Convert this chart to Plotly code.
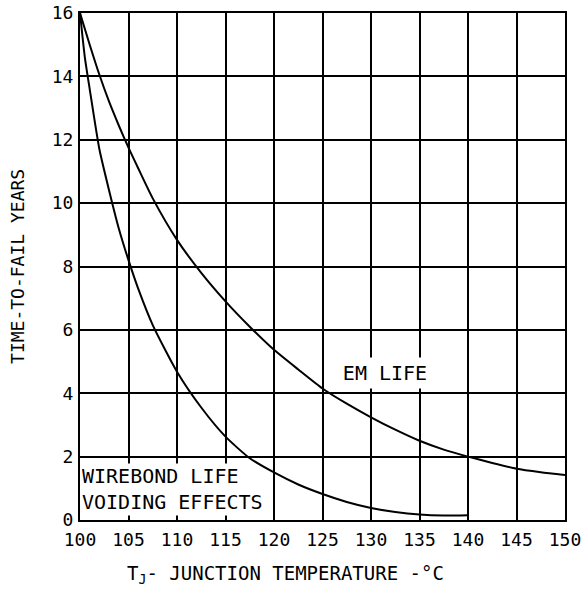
import plotly.graph_objects as go

# Data
em_temp = [100, 101, 102, 103, 104, 105, 106, 107.5, 110, 112.5, 115, 117.5, 120, 122.5, 125,
           127.5, 130, 132.5, 135, 137.5, 140, 142.5, 145, 147.5, 150]
em_life = [16, 15.0, 14.05, 13.2, 12.45, 11.75, 11.1, 10.15, 8.84, 7.8, 6.9, 6.1, 5.37, 4.75, 4.15,
           3.67, 3.24, 2.85, 2.5, 2.22, 2.0, 1.8, 1.62, 1.51, 1.42]

wb_temp = [100, 100.5, 101, 102, 103, 104, 105, 106, 107.5, 110, 112.5, 115, 117.5, 120, 122.5,
           125, 127.5, 130, 132.5, 135, 137.5, 140]
wb_life = [16, 14.6, 13.6, 11.7, 10.4, 9.2, 8.2, 7.3, 6.15, 4.68, 3.55, 2.63, 1.95, 1.5, 1.12,
           0.82, 0.57, 0.38, 0.25, 0.17, 0.14, 0.15]

x_ticks = [100, 105, 110, 115, 120, 125, 130, 135, 140, 145, 150]
y_ticks = [0, 2, 4, 6, 8, 10, 12, 14, 16]

FONT = "DejaVu Sans Mono"

fig = go.Figure()
fig.add_trace(go.Scatter(x=em_temp, y=em_life, mode="lines",
                         line=dict(color="black", width=2, shape="spline", smoothing=0.6),
                         showlegend=False, hoverinfo="skip"))
fig.add_trace(go.Scatter(x=wb_temp, y=wb_life, mode="lines",
                         line=dict(color="black", width=2, shape="spline", smoothing=0.6),
                         showlegend=False, hoverinfo="skip"))

axis_common = dict(showgrid=True, gridcolor="black", gridwidth=2,
                   showline=True, linecolor="black", linewidth=2, mirror=True,
                   zeroline=False, ticks="outside", tickcolor="rgba(0,0,0,0)",
                   automargin=False,
                   tickfont=dict(family=FONT, size=18, color="black"))

fig.update_xaxes(range=[100, 150], tickvals=x_ticks, ticktext=[str(v) for v in x_ticks],
                 ticklen=2, **axis_common)
fig.update_yaxes(range=[0, 16], tickvals=y_ticks, ticktext=[str(v) for v in y_ticks],
                 ticklen=1, **axis_common)

LABEL_FONT = dict(family=FONT, size=20, color="black")
fig.add_annotation(x=100.15, y=0.98, xref="x", yref="y", xanchor="left", yanchor="bottom",
                   text="WIREBOND LIFE", align="left", showarrow=False,
                   width=170, height=24, bgcolor="white", borderpad=0, font=LABEL_FONT)
fig.add_annotation(x=100.15, y=0.12, xref="x", yref="y", xanchor="left", yanchor="bottom",
                   text="VOIDING EFFECTS", align="left", showarrow=False,
                   width=190, height=27, bgcolor="white", borderpad=0, font=LABEL_FONT)
fig.add_annotation(x=131.4, y=4.65, xref="x", yref="y", xanchor="center", yanchor="middle",
                   text="EM LIFE", showarrow=False, width=100, height=30,
                   bgcolor="white", borderpad=0, font=LABEL_FONT)

fig.add_annotation(x=0.4227, y=-0.108, xref="paper", yref="paper", xanchor="center", yanchor="middle",
                   text="T<sub>J</sub>- JUNCTION TEMPERATURE -°C", showarrow=False,
                   font=dict(family=FONT, size=19, color="black"))
fig.add_annotation(x=-0.128, y=0.501, xref="paper", yref="paper", xanchor="center", yanchor="middle",
                   text="TIME-TO-FAIL YEARS", textangle=-90, showarrow=False,
                   font=dict(family=FONT, size=18, color="black"))

fig.update_layout(width=588, height=615, margin=dict(l=80, r=23, t=13, b=95, autoexpand=False),
                  plot_bgcolor="white", paper_bgcolor="white")

fig.write_html("out.html", config={"displayModeBar": False},
               post_script="document.body.style.margin='0px';document.body.style.overflow='hidden';")
